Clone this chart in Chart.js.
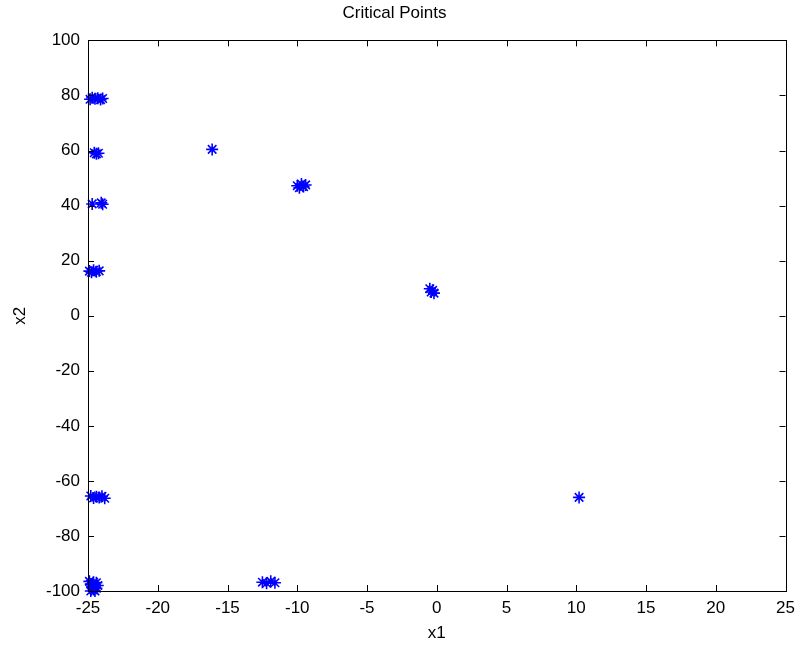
<!DOCTYPE html>
<html>
<head>
<meta charset="utf-8">
<title>Critical Points</title>
<script src="https://cdn.jsdelivr.net/npm/chart.js@4/dist/chart.umd.min.js"></script>
<style>
  html, body { margin: 0; padding: 0; background: #ffffff; }
  #wrap { width: 802px; height: 651px; }
</style>
</head>
<body>
<div id="wrap"><canvas id="c" width="802" height="651"></canvas></div>
<script>
// Critical points found by the solver (x1, x2 pairs)
const x1Values = [
  -24.85, -24.7, -24.5, -24.3, -24.1, -23.95,
  -24.55, -24.4, -24.25,
  -24.7, -24.05, -23.95,
  -24.9, -24.75, -24.6, -24.4, -24.2,
  -16.1,
  -10.0, -9.85, -9.7, -9.55, -9.4,
  -0.5, -0.4, -0.3, -0.2,
  10.2,
  -24.8, -24.6, -24.4, -24.2, -24.0, -23.8,
  -24.9, -24.8, -24.7, -24.6, -24.5, -24.4, -24.3, -24.8, -24.6, -24.4, -24.7, -24.5,
  -12.5, -12.2, -11.9, -11.6
];
const x2Values = [
  78.6, 79.2, 78.8, 79.0, 78.5, 78.9,
  59.2, 58.8, 59.0,
  40.6, 41.0, 40.5,
  16.2, 15.8, 16.5, 16.0, 16.3,
  60.4,
  47.2, 46.5, 47.8, 46.9, 47.5,
  9.8, 8.6, 9.2, 8.2,
  -66.0,
  -65.5, -66.2, -65.8, -66.0, -65.6, -66.3,
  -96.5, -97.5, -98.5, -99.5, -100, -97, -98, -100, -96.8, -99, -97.8, -98.8,
  -96.8, -97.2, -96.5, -97.0
];

// Axis ranges and tick steps
const x1Range = [-25, 25];
const x2Range = [-100, 100];
const x1Step = 5;
const x2Step = 20;

const points = x1Values.map((x, i) => ({ x: x, y: x2Values[i] }));

const FONT = "'Liberation Sans', Arial, Helvetica, sans-serif";

// Full box around the plot with tick marks pointing inward on all four sides
const boxTicks = {
  id: 'boxTicks',
  afterDraw(chart) {
    const { ctx, chartArea: a, scales } = chart;
    const len = 6;
    ctx.save();
    ctx.strokeStyle = '#000000';
    ctx.lineWidth = 1;
    ctx.beginPath();
    scales.x.ticks.forEach(t => {
      const px = Math.round(scales.x.getPixelForValue(t.value)) + 0.5;
      ctx.moveTo(px, a.bottom); ctx.lineTo(px, a.bottom - len);
      ctx.moveTo(px, a.top); ctx.lineTo(px, a.top + len);
    });
    scales.y.ticks.forEach(t => {
      const py = Math.round(scales.y.getPixelForValue(t.value)) + 0.5;
      ctx.moveTo(a.left, py); ctx.lineTo(a.left + len, py);
      ctx.moveTo(a.right, py); ctx.lineTo(a.right - len, py);
    });
    ctx.stroke();
    ctx.strokeRect(Math.round(a.left) + 0.5, Math.round(a.top) + 0.5,
                   Math.round(a.right - a.left), Math.round(a.bottom - a.top));
    ctx.restore();
  }
};

const whiteBg = {
  id: 'whiteBg',
  beforeDraw(chart) {
    const ctx = chart.ctx;
    ctx.save();
    ctx.fillStyle = '#ffffff';
    ctx.fillRect(0, 0, chart.width, chart.height);
    ctx.restore();
  }
};

new Chart(document.getElementById('c'), {
  type: 'scatter',
  data: {
    datasets: [{
      label: 'critical points',
      data: points,
      pointStyle: 'star',
      pointRadius: 6,
      pointHoverRadius: 6,
      borderColor: '#0000ff',
      backgroundColor: '#0000ff',
      pointBorderWidth: 1.6,
      clip: false
    }]
  },
  options: {
    responsive: false,
    animation: false,
    events: [],
    layout: { padding: { left: 0, right: 13, top: 0, bottom: 0 } },
    plugins: {
      legend: { display: false },
      tooltip: { enabled: false },
      title: {
        display: true,
        text: 'Critical Points',
        color: '#000000',
        font: { family: FONT, size: 17, weight: 'normal' },
        padding: { top: 3, bottom: 17 }
      }
    },
    scales: {
      x: {
        type: 'linear',
        min: x1Range[0],
        max: x1Range[1],
        afterFit(s) { s.height = 60; },
        ticks: {
          stepSize: x1Step,
          color: '#000000',
          padding: 7,
          maxRotation: 0,
          font: { family: FONT, size: 17 }
        },
        grid: { display: false, drawTicks: false },
        border: { display: false },
        title: {
          display: true,
          text: 'x1',
          color: '#000000',
          font: { family: FONT, size: 17 },
          padding: { top: 0, bottom: 7 }
        }
      },
      y: {
        type: 'linear',
        min: x2Range[0],
        max: x2Range[1],
        afterFit(s) { s.width = 88; },
        ticks: {
          stepSize: x2Step,
          color: '#000000',
          padding: 8,
          font: { family: FONT, size: 17 }
        },
        grid: { display: false, drawTicks: false },
        border: { display: false },
        title: {
          display: true,
          text: 'x2',
          color: '#000000',
          font: { family: FONT, size: 17 },
          padding: { top: 10, bottom: 0 }
        }
      }
    }
  },
  plugins: [whiteBg, boxTicks]
});
</script>
</body>
</html>
